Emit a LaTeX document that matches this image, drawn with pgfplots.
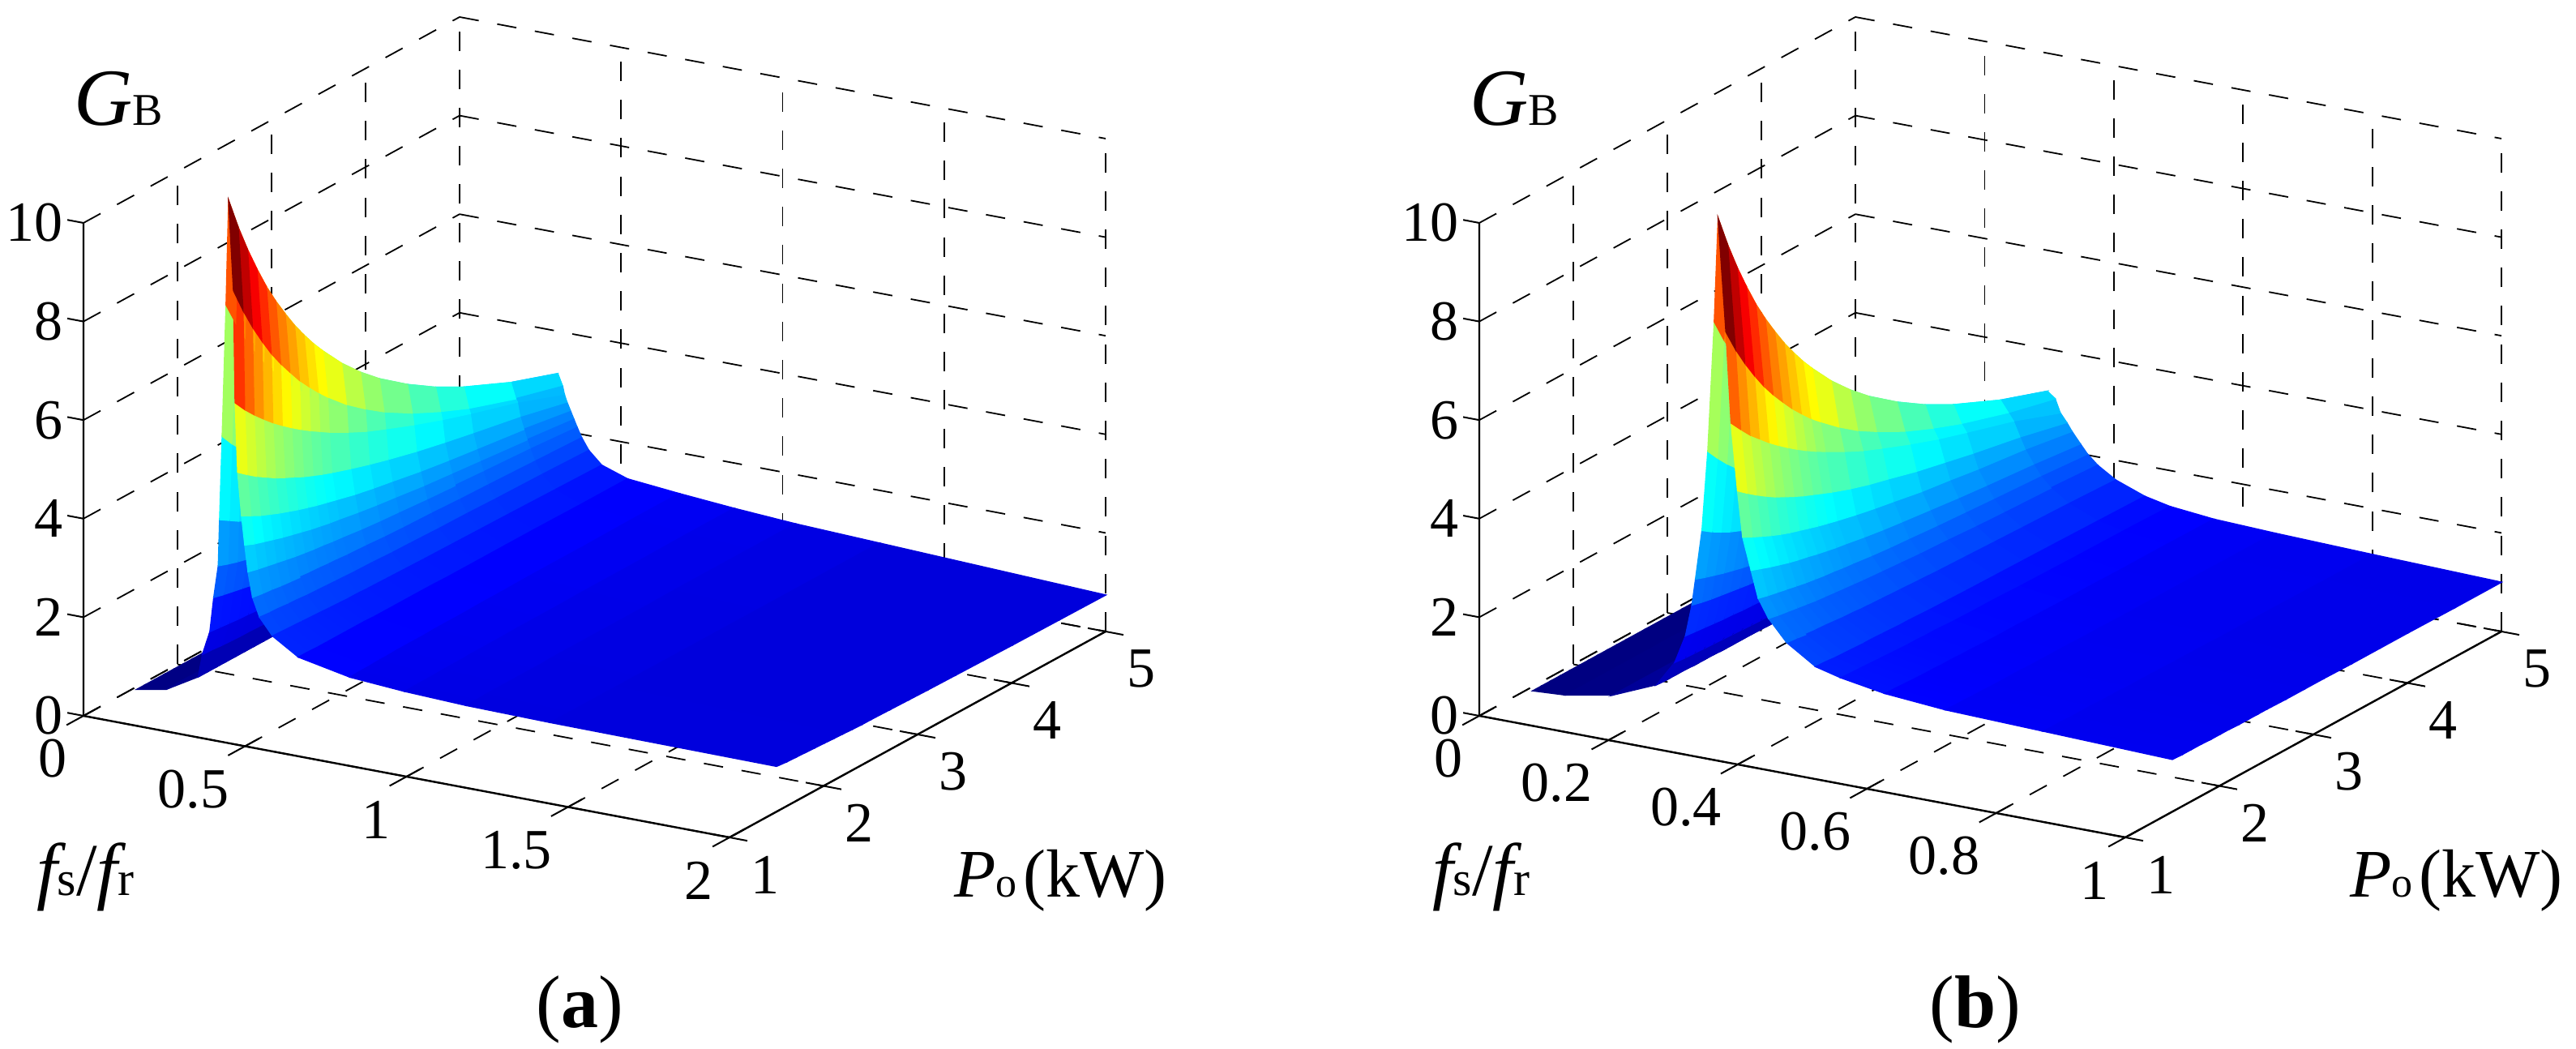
\documentclass[border=0pt]{standalone}
\usepackage{fontspec}
\setmainfont{Liberation Serif}
\usepackage{pgfplots}
\pgfplotsset{compat=1.18}
\newcommand\tl{\fontsize{17.5pt}{18pt}\selectfont}
\newcommand\bgf{\fontsize{21pt}{23pt}\selectfont}
\newcommand\ttf{\fontsize{23pt}{25pt}\selectfont}
\newcommand\sm{\fontsize{13pt}{14pt}\selectfont}
\newcommand\smx{\fontsize{15pt}{16pt}\selectfont}
\pgfplotsset{gb/.style={
 clip=false, ymin=1,ymax=5,zmin=0,zmax=10,
 ytick={1,2,3,4,5}, ztick={0,2,4,6,8,10},
 /pgf/number format/assume math mode=true,
 grid=major, major grid style={black,line width=.45pt,dash pattern=on 6pt off 5.8pt},
 axis line style={draw=none}, tick style={draw=none}, major tick length=0pt,
 colormap={jetm}{rgb255=(0,0,128) rgb255=(0,0,255) rgb255=(0,128,255) rgb255=(0,255,255) rgb255=(128,255,128) rgb255=(255,255,0) rgb255=(255,128,0) rgb255=(255,0,0) rgb255=(128,0,0)},
 point meta min=0, point meta max=10.3,
 tick label style={font=\tl},
 xticklabel style={anchor=east,xshift=-1.5pt,yshift=-13.25pt},
 yticklabel style={anchor=center,xshift=11pt,yshift=-11.5pt},
 zticklabel style={anchor=east,xshift=-2.75pt,yshift=0pt},
 every axis x label/.style={at={(axis cs:0,1,0)},anchor=base west,xshift=-18pt,yshift=-55.5pt},
 every axis y label/.style={at={(axis cs:0,1,0)},anchor=base west,xshift=265pt,yshift=-56pt},
 every axis z label/.style={at={(axis cs:0,1,0)},anchor=base west,xshift=-6.5pt,yshift=182pt},
 title style={at={(axis cs:0,1,0)},anchor=center,xshift=153pt,yshift=-96.5pt,font=\ttf},
 xlabel={{\fontsize{23pt}{25pt}\selectfont\itshape f}{\smx s}{\fontsize{23pt}{25pt}\selectfont/}{\fontsize{23pt}{25pt}\selectfont\itshape f}{\smx r}},
 ylabel={{\bgf\itshape P}{\sm o}\kern2pt{\bgf (kW)}},
 zlabel={{\fontsize{25pt}{28pt}\selectfont\itshape G}{\fontsize{14pt}{16pt}\selectfont B}},
},
surfst/.style={surf,shader=flat corner,z buffer=sort,mesh/ordering=y varies,mesh/rows=19},
}
\begin{document}
\begin{tikzpicture}
\path[use as bounding box] (0,0) rectangle (794.5pt,323.5pt);
\begin{axis}[gb, at={(25.75pt,65.25pt)},anchor=south west,
 x={(99.625pt,-18.75pt)},y={(29pt,15.875pt)},z={(0pt,15.2pt)},
 xmin=0,xmax=2,xtick={0,0.5,1,1.5,2},
 title={({\bfseries a})}]
\addplot3[surfst] table {
.02 1.5 .04
.02 1.6 .04
.02 1.7 .04
.02 1.8 .04
.02 1.9 .04
.02 2 .04
.02 2.1 .04
.02 2.2 .04
.02 2.3 .04
.02 2.4 .04
.02 2.5 .04
.02 2.7 .04
.02 2.9 .04
.02 3.1 .04
.02 3.4 .04
.02 3.7 .04
.02 4 .04
.02 4.5 .04
.02 5 .04
.11 1.5 .15
.11 1.6 .15
.11 1.7 .15
.11 1.8 .15
.11 1.9 .15
.11 2 .15
.11 2.1 .15
.11 2.2 .15
.11 2.3 .15
.11 2.4 .15
.11 2.5 .15
.11 2.7 .15
.11 2.9 .15
.11 3.1 .15
.11 3.4 .15
.11 3.7 .15
.11 4 .15
.11 4.5 .15
.11 5 .15
.21 1.5 .53
.21 1.6 .53
.21 1.7 .53
.21 1.8 .53
.21 1.9 .53
.21 2 .53
.21 2.1 .53
.21 2.2 .53
.21 2.3 .53
.21 2.4 .53
.21 2.5 .53
.21 2.7 .53
.21 2.9 .53
.21 3.1 .53
.21 3.4 .53
.21 3.7 .53
.21 4 .53
.21 4.5 .53
.21 5 .53
.223 1.5 1.00
.223 1.6 .99
.223 1.7 .97
.223 1.8 .96
.223 1.9 .95
.223 2 .95
.223 2.1 .94
.223 2.2 .93
.223 2.3 .93
.223 2.4 .92
.223 2.5 .91
.223 2.7 .90
.223 2.9 .90
.223 3.1 .89
.223 3.4 .88
.223 3.7 .87
.223 4 .87
.223 4.5 .86
.223 5 .85
.246 1.5 1.49
.246 1.6 1.47
.246 1.7 1.45
.246 1.8 1.43
.246 1.9 1.42
.246 2 1.40
.246 2.1 1.39
.246 2.2 1.38
.246 2.3 1.37
.246 2.4 1.36
.246 2.5 1.35
.246 2.7 1.34
.246 2.9 1.32
.246 3.1 1.31
.246 3.4 1.30
.246 3.7 1.29
.246 4 1.28
.246 4.5 1.26
.246 5 1.25
.258 1.5 2.20
.258 1.6 2.15
.258 1.7 2.11
.258 1.8 2.07
.258 1.9 2.03
.258 2 2.00
.258 2.1 1.98
.258 2.2 1.95
.258 2.3 1.93
.258 2.4 1.91
.258 2.5 1.89
.258 2.7 1.85
.258 2.9 1.82
.258 3.1 1.79
.258 3.4 1.76
.258 3.7 1.73
.258 4 1.71
.258 4.5 1.68
.258 5 1.65
.272 1.5 2.86
.272 1.6 2.79
.272 1.7 2.73
.272 1.8 2.68
.272 1.9 2.63
.272 2 2.59
.272 2.1 2.55
.272 2.2 2.51
.272 2.3 2.48
.272 2.4 2.45
.272 2.5 2.43
.272 2.7 2.38
.272 2.9 2.34
.272 3.1 2.30
.272 3.4 2.25
.272 3.7 2.21
.272 4 2.18
.272 4.5 2.14
.272 5 2.10
.276 1.5 3.80
.276 1.6 3.68
.276 1.7 3.56
.276 1.8 3.47
.276 1.9 3.38
.276 2 3.30
.276 2.1 3.23
.276 2.2 3.16
.276 2.3 3.10
.276 2.4 3.05
.276 2.5 3.00
.276 2.7 2.91
.276 2.9 2.83
.276 3.1 2.77
.276 3.4 2.68
.276 3.7 2.61
.276 4 2.55
.276 4.5 2.47
.276 5 2.40
.284 1.5 5.50
.284 1.6 5.25
.284 1.7 5.03
.284 1.8 4.83
.284 1.9 4.66
.284 2 4.50
.284 2.1 4.36
.284 2.2 4.23
.284 2.3 4.11
.284 2.4 4.00
.284 2.5 3.90
.284 2.7 3.72
.284 2.9 3.57
.284 3.1 3.44
.284 3.4 3.27
.284 3.7 3.12
.284 4 3.00
.284 4.5 2.83
.284 5 2.70
.296 1.5 8.18
.296 1.6 7.72
.296 1.7 7.31
.296 1.8 6.95
.296 1.9 6.62
.296 2 6.33
.296 2.1 6.07
.296 2.2 5.82
.296 2.3 5.61
.296 2.4 5.40
.296 2.5 5.22
.296 2.7 4.89
.296 2.9 4.61
.296 3.1 4.36
.296 3.4 4.05
.296 3.7 3.78
.296 4 3.55
.296 4.5 3.25
.296 5 3.00
.304 1.5 10.30
.304 1.6 9.66
.304 1.7 9.10
.304 1.8 8.60
.304 1.9 8.14
.304 2 7.74
.304 2.1 7.38
.304 2.2 7.04
.304 2.3 6.74
.304 2.4 6.46
.304 2.5 6.21
.304 2.7 5.75
.304 2.9 5.36
.304 3.1 5.02
.304 3.4 4.59
.304 3.7 4.22
.304 4 3.91
.304 4.5 3.48
.304 5 3.14
.319 1.5 8.50
.319 1.6 8.00
.319 1.7 7.56
.319 1.8 7.17
.319 1.9 6.81
.319 2 6.50
.319 2.1 6.22
.319 2.2 5.95
.319 2.3 5.72
.319 2.4 5.50
.319 2.5 5.30
.319 2.7 4.94
.319 2.9 4.64
.319 3.1 4.37
.319 3.4 4.03
.319 3.7 3.75
.319 4 3.50
.319 4.5 3.17
.319 5 2.90
.324 1.5 6.23
.324 1.6 5.99
.324 1.7 5.78
.324 1.8 5.59
.324 1.9 5.41
.324 2 5.25
.324 2.1 5.10
.324 2.2 4.96
.324 2.3 4.83
.324 2.4 4.71
.324 2.5 4.59
.324 2.7 4.38
.324 2.9 4.19
.324 3.1 4.03
.324 3.4 3.80
.324 3.7 3.59
.324 4 3.40
.324 4.5 3.11
.324 5 2.75
.332 1.5 4.83
.332 1.6 4.68
.332 1.7 4.54
.332 1.8 4.42
.332 1.9 4.30
.332 2 4.20
.332 2.1 4.11
.332 2.2 4.01
.332 2.3 3.93
.332 2.4 3.85
.332 2.5 3.78
.332 2.7 3.65
.332 2.9 3.53
.332 3.1 3.42
.332 3.4 3.27
.332 3.7 3.14
.332 4 3.02
.332 4.5 2.83
.332 5 2.60
.344 1.5 3.96
.344 1.6 3.86
.344 1.7 3.76
.344 1.8 3.68
.344 1.9 3.60
.344 2 3.53
.344 2.1 3.46
.344 2.2 3.40
.344 2.3 3.34
.344 2.4 3.29
.344 2.5 3.24
.344 2.7 3.14
.344 2.9 3.06
.344 3.1 2.99
.344 3.4 2.88
.344 3.7 2.79
.344 4 2.71
.344 4.5 2.58
.344 5 2.42
.354 1.5 3.38
.354 1.6 3.30
.354 1.7 3.24
.354 1.8 3.18
.354 1.9 3.12
.354 2 3.07
.354 2.1 3.02
.354 2.2 2.97
.354 2.3 2.93
.354 2.4 2.89
.354 2.5 2.86
.354 2.7 2.79
.354 2.9 2.73
.354 3.1 2.68
.354 3.4 2.60
.354 3.7 2.54
.354 4 2.48
.354 4.5 2.38
.354 5 2.27
.364 1.5 2.85
.364 1.6 2.80
.364 1.7 2.76
.364 1.8 2.72
.364 1.9 2.68
.364 2 2.64
.364 2.1 2.61
.364 2.2 2.58
.364 2.3 2.56
.364 2.4 2.53
.364 2.5 2.51
.364 2.7 2.46
.364 2.9 2.42
.364 3.1 2.39
.364 3.4 2.34
.364 3.7 2.30
.364 4 2.26
.364 4.5 2.20
.364 5 2.12
.378 1.5 2.35
.378 1.6 2.32
.378 1.7 2.30
.378 1.8 2.27
.378 1.9 2.25
.378 2 2.23
.378 2.1 2.21
.378 2.2 2.20
.378 2.3 2.18
.378 2.4 2.17
.378 2.5 2.15
.378 2.7 2.13
.378 2.9 2.10
.378 3.1 2.08
.378 3.4 2.06
.378 3.7 2.03
.378 4 2.01
.378 4.5 1.97
.378 5 1.93
.40 1.5 1.97
.40 1.6 1.95
.40 1.7 1.94
.40 1.8 1.92
.40 1.9 1.91
.40 2 1.89
.40 2.1 1.88
.40 2.2 1.87
.40 2.3 1.86
.40 2.4 1.85
.40 2.5 1.84
.40 2.7 1.83
.40 2.9 1.81
.40 3.1 1.80
.40 3.4 1.78
.40 3.7 1.77
.40 4 1.75
.40 4.5 1.73
.40 5 1.70
.44 1.5 1.64
.44 1.6 1.63
.44 1.7 1.62
.44 1.8 1.61
.44 1.9 1.60
.44 2 1.59
.44 2.1 1.58
.44 2.2 1.57
.44 2.3 1.56
.44 2.4 1.56
.44 2.5 1.55
.44 2.7 1.54
.44 2.9 1.53
.44 3.1 1.52
.44 3.4 1.51
.44 3.7 1.50
.44 4 1.49
.44 4.5 1.47
.44 5 1.45
.52 1.5 1.31
.52 1.6 1.31
.52 1.7 1.30
.52 1.8 1.30
.52 1.9 1.30
.52 2 1.30
.52 2.1 1.30
.52 2.2 1.30
.52 2.3 1.29
.52 2.4 1.29
.52 2.5 1.29
.52 2.7 1.29
.52 2.9 1.29
.52 3.1 1.28
.52 3.4 1.28
.52 3.7 1.28
.52 4 1.28
.52 4.5 1.27
.52 5 1.27
.68 1.5 1.10
.68 1.6 1.11
.68 1.7 1.11
.68 1.8 1.12
.68 1.9 1.12
.68 2 1.13
.68 2.1 1.13
.68 2.2 1.13
.68 2.3 1.13
.68 2.4 1.14
.68 2.5 1.14
.68 2.7 1.14
.68 2.9 1.15
.68 3.1 1.15
.68 3.4 1.16
.68 3.7 1.16
.68 4 1.16
.68 4.5 1.17
.68 5 1.17
.85 1.5 1.02
.85 1.6 1.03
.85 1.7 1.03
.85 1.8 1.03
.85 1.9 1.04
.85 2 1.04
.85 2.1 1.04
.85 2.2 1.05
.85 2.3 1.05
.85 2.4 1.05
.85 2.5 1.05
.85 2.7 1.06
.85 2.9 1.06
.85 3.1 1.06
.85 3.4 1.07
.85 3.7 1.07
.85 4 1.07
.85 4.5 1.08
.85 5 1.08
1.04 1.5 .97
1.04 1.6 .97
1.04 1.7 .98
1.04 1.8 .98
1.04 1.9 .98
1.04 2 .98
1.04 2.1 .98
1.04 2.2 .98
1.04 2.3 .98
1.04 2.4 .99
1.04 2.5 .99
1.04 2.7 .99
1.04 2.9 .99
1.04 3.1 .99
1.04 3.4 .99
1.04 3.7 1
1.04 4 1
1.04 4.5 1
1.04 5 1
1.3 1.5 .945
1.3 1.6 .944
1.3 1.7 .942
1.3 1.8 .941
1.3 1.9 .94
1.3 2 .94
1.3 2.1 .939
1.3 2.2 .938
1.3 2.3 .938
1.3 2.4 .937
1.3 2.5 .936
1.3 2.7 .935
1.3 2.9 .935
1.3 3.1 .934
1.3 3.4 .933
1.3 3.7 .932
1.3 4 .932
1.3 4.5 .931
1.3 5 .93
2 1.5 .92
2 1.6 .90
2 1.7 .89
2 1.8 .88
2 1.9 .87
2 2 .86
2 2.1 .85
2 2.2 .84
2 2.3 .83
2 2.4 .82
2 2.5 .82
2 2.7 .81
2 2.9 .80
2 3.1 .79
2 3.4 .78
2 3.7 .77
2 4 .76
2 4.5 .75
2 5 .74
};
\draw[line width=.6pt] (axis cs:0,1,0)--(axis cs:2,1,0) (axis cs:2,1,0)--(axis cs:2,5,0) (axis cs:0,1,0)--(axis cs:0,1,10);
\pgfplotsinvokeforeach{0,0.5,1,1.5,2}{\draw[line width=.5pt] (axis cs:#1,.82,0)--(axis cs:#1,1.15,0);}
\pgfplotsinvokeforeach{1,2,3,4,5}{\draw[line width=.5pt] (axis cs:1.945,#1,0)--(axis cs:2.055,#1,0);}
\pgfplotsinvokeforeach{0,2,4,6,8,10}{\draw[line width=.5pt] (axis cs:-.05,1,#1)--(axis cs:0,1,#1);}
\end{axis}
\begin{axis}[gb, at={(456.25pt,65.25pt)},anchor=south west,
 x={(199.25pt,-37.5pt)},y={(29pt,15.875pt)},z={(0pt,15.2pt)},
 xmin=0,xmax=1,xtick={0,0.2,0.4,0.6,0.8,1},
 title={({\bfseries b})}]
\addplot3[surfst] table {
.01 1.5 .01
.01 1.6 .01
.01 1.7 .01
.01 1.8 .01
.01 1.9 .01
.01 2 .01
.01 2.1 .01
.01 2.2 .01
.01 2.3 .01
.01 2.4 .01
.01 2.5 .01
.01 2.7 .01
.01 2.9 .01
.01 3.1 .01
.01 3.4 .01
.01 3.7 .01
.01 4 .01
.01 4.5 .01
.01 5 .01
.061 1.5 .05
.061 1.6 .05
.061 1.7 .05
.061 1.8 .05
.061 1.9 .05
.061 2 .05
.061 2.1 .05
.061 2.2 .05
.061 2.3 .05
.061 2.4 .05
.061 2.5 .05
.061 2.7 .05
.061 2.9 .05
.061 3.1 .05
.061 3.4 .05
.061 3.7 .05
.061 4 .05
.061 4.5 .05
.061 5 .05
.134 1.5 .23
.134 1.6 .23
.134 1.7 .23
.134 1.8 .23
.134 1.9 .23
.134 2 .23
.134 2.1 .23
.134 2.2 .23
.134 2.3 .23
.134 2.4 .23
.134 2.5 .23
.134 2.7 .23
.134 2.9 .23
.134 3.1 .23
.134 3.4 .23
.134 3.7 .23
.134 4 .23
.134 4.5 .23
.134 5 .23
.202 1.5 .61
.202 1.6 .60
.202 1.7 .60
.202 1.8 .60
.202 1.9 .59
.202 2 .59
.202 2.1 .59
.202 2.2 .58
.202 2.3 .58
.202 2.4 .58
.202 2.5 .58
.202 2.7 .57
.202 2.9 .57
.202 3.1 .57
.202 3.4 .56
.202 3.7 .56
.202 4 .56
.202 4.5 .55
.202 5 .55
.23 1.5 1.13
.23 1.6 1.11
.23 1.7 1.10
.23 1.8 1.09
.23 1.9 1.08
.23 2 1.07
.23 2.1 1.06
.23 2.2 1.05
.23 2.3 1.04
.23 2.4 1.03
.23 2.5 1.03
.23 2.7 1.02
.23 2.9 1.01
.23 3.1 1.00
.23 3.4 .99
.23 3.7 .98
.23 4 .97
.23 4.5 .96
.23 5 .95
.2465 1.5 1.71
.2465 1.6 1.69
.2465 1.7 1.67
.2465 1.8 1.65
.2465 1.9 1.63
.2465 2 1.62
.2465 2.1 1.60
.2465 2.2 1.59
.2465 2.3 1.58
.2465 2.4 1.57
.2465 2.5 1.56
.2465 2.7 1.54
.2465 2.9 1.53
.2465 3.1 1.52
.2465 3.4 1.50
.2465 3.7 1.49
.2465 4 1.48
.2465 4.5 1.46
.2465 5 1.45
.2565 1.5 2.36
.2565 1.6 2.31
.2565 1.7 2.27
.2565 1.8 2.24
.2565 1.9 2.21
.2565 2 2.18
.2565 2.1 2.15
.2565 2.2 2.13
.2565 2.3 2.11
.2565 2.4 2.09
.2565 2.5 2.07
.2565 2.7 2.04
.2565 2.9 2.01
.2565 3.1 1.98
.2565 3.4 1.95
.2565 3.7 1.93
.2565 4 1.90
.2565 4.5 1.87
.2565 5 1.85
.262 1.5 2.90
.262 1.6 2.83
.262 1.7 2.77
.262 1.8 2.71
.262 1.9 2.66
.262 2 2.61
.262 2.1 2.57
.262 2.2 2.54
.262 2.3 2.50
.262 2.4 2.47
.262 2.5 2.44
.262 2.7 2.39
.262 2.9 2.35
.262 3.1 2.31
.262 3.4 2.26
.262 3.7 2.22
.262 4 2.19
.262 4.5 2.14
.262 5 2.10
.272 1.5 3.91
.272 1.6 3.78
.272 1.7 3.67
.272 1.8 3.57
.272 1.9 3.49
.272 2 3.41
.272 2.1 3.33
.272 2.2 3.27
.272 2.3 3.21
.272 2.4 3.15
.272 2.5 3.10
.272 2.7 3.01
.272 2.9 2.94
.272 3.1 2.87
.272 3.4 2.78
.272 3.7 2.71
.272 4 2.65
.272 4.5 2.57
.272 5 2.50
.281 1.5 5.54
.281 1.6 5.30
.281 1.7 5.08
.281 1.8 4.89
.281 1.9 4.72
.281 2 4.56
.281 2.1 4.42
.281 2.2 4.29
.281 2.3 4.18
.281 2.4 4.07
.281 2.5 3.98
.281 2.7 3.80
.281 2.9 3.65
.281 3.1 3.52
.281 3.4 3.35
.281 3.7 3.21
.281 4 3.09
.281 4.5 2.93
.281 5 2.80
.291 1.5 8.19
.291 1.6 7.73
.291 1.7 7.33
.291 1.8 6.97
.291 1.9 6.64
.291 2 6.35
.291 2.1 6.09
.291 2.2 5.85
.291 2.3 5.64
.291 2.4 5.43
.291 2.5 5.25
.291 2.7 4.93
.291 2.9 4.64
.291 3.1 4.40
.291 3.4 4.09
.291 3.7 3.83
.291 4 3.60
.291 4.5 3.30
.291 5 3.05
.297 1.5 10.30
.297 1.6 9.66
.297 1.7 9.10
.297 1.8 8.60
.297 1.9 8.14
.297 2 7.74
.297 2.1 7.38
.297 2.2 7.04
.297 2.3 6.74
.297 2.4 6.46
.297 2.5 6.21
.297 2.7 5.75
.297 2.9 5.36
.297 3.1 5.02
.297 3.4 4.59
.297 3.7 4.22
.297 4 3.91
.297 4.5 3.48
.297 5 3.14
.309 1.5 8.03
.309 1.6 7.58
.309 1.7 7.19
.309 1.8 6.84
.309 1.9 6.52
.309 2 6.24
.309 2.1 5.99
.309 2.2 5.75
.309 2.3 5.54
.309 2.4 5.34
.309 2.5 5.17
.309 2.7 4.85
.309 2.9 4.57
.309 3.1 4.34
.309 3.4 4.03
.309 3.7 3.78
.309 4 3.56
.309 4.5 3.26
.309 5 3.02
.317 1.5 6.20
.317 1.6 5.97
.317 1.7 5.75
.317 1.8 5.57
.317 1.9 5.39
.317 2 5.23
.317 2.1 5.08
.317 2.2 4.94
.317 2.3 4.81
.317 2.4 4.69
.317 2.5 4.58
.317 2.7 4.37
.317 2.9 4.18
.317 3.1 4.02
.317 3.4 3.79
.317 3.7 3.58
.317 4 3.40
.317 4.5 3.11
.317 5 2.75
.327 1.5 4.85
.327 1.6 4.70
.327 1.7 4.56
.327 1.8 4.43
.327 1.9 4.31
.327 2 4.21
.327 2.1 4.11
.327 2.2 4.02
.327 2.3 3.94
.327 2.4 3.86
.327 2.5 3.78
.327 2.7 3.64
.327 2.9 3.52
.327 3.1 3.42
.327 3.4 3.26
.327 3.7 3.13
.327 4 3.00
.327 4.5 2.81
.327 5 2.58
.335 1.5 3.93
.335 1.6 3.83
.335 1.7 3.74
.335 1.8 3.65
.335 1.9 3.57
.335 2 3.50
.335 2.1 3.44
.335 2.2 3.38
.335 2.3 3.32
.335 2.4 3.27
.335 2.5 3.22
.335 2.7 3.13
.335 2.9 3.05
.335 3.1 2.98
.335 3.4 2.87
.335 3.7 2.79
.335 4 2.70
.335 4.5 2.58
.335 5 2.42
.348 1.5 3.29
.348 1.6 3.22
.348 1.7 3.15
.348 1.8 3.09
.348 1.9 3.03
.348 2 2.98
.348 2.1 2.94
.348 2.2 2.89
.348 2.3 2.85
.348 2.4 2.81
.348 2.5 2.78
.348 2.7 2.71
.348 2.9 2.65
.348 3.1 2.60
.348 3.4 2.53
.348 3.7 2.46
.348 4 2.40
.348 4.5 2.31
.348 5 2.20
.359 1.5 2.75
.359 1.6 2.70
.359 1.7 2.66
.359 1.8 2.62
.359 1.9 2.58
.359 2 2.54
.359 2.1 2.51
.359 2.2 2.48
.359 2.3 2.46
.359 2.4 2.43
.359 2.5 2.41
.359 2.7 2.36
.359 2.9 2.32
.359 3.1 2.29
.359 3.4 2.24
.359 3.7 2.20
.359 4 2.16
.359 4.5 2.10
.359 5 2.02
.375 1.5 2.38
.375 1.6 2.34
.375 1.7 2.31
.375 1.8 2.28
.375 1.9 2.25
.375 2 2.22
.375 2.1 2.20
.375 2.2 2.18
.375 2.3 2.16
.375 2.4 2.14
.375 2.5 2.12
.375 2.7 2.09
.375 2.9 2.06
.375 3.1 2.03
.375 3.4 2.00
.375 3.7 1.96
.375 4 1.93
.375 4.5 1.89
.375 5 1.83
.403 1.5 1.96
.403 1.6 1.94
.403 1.7 1.91
.403 1.8 1.89
.403 1.9 1.88
.403 2 1.86
.403 2.1 1.84
.403 2.2 1.83
.403 2.3 1.81
.403 2.4 1.80
.403 2.5 1.79
.403 2.7 1.77
.403 2.9 1.75
.403 3.1 1.73
.403 3.4 1.71
.403 3.7 1.69
.403 4 1.67
.403 4.5 1.64
.403 5 1.60
.448 1.5 1.58
.448 1.6 1.57
.448 1.7 1.55
.448 1.8 1.54
.448 1.9 1.53
.448 2 1.52
.448 2.1 1.52
.448 2.2 1.51
.448 2.3 1.50
.448 2.4 1.49
.448 2.5 1.49
.448 2.7 1.47
.448 2.9 1.46
.448 3.1 1.45
.448 3.4 1.44
.448 3.7 1.43
.448 4 1.42
.448 4.5 1.40
.448 5 1.38
.487 1.5 1.45
.487 1.6 1.44
.487 1.7 1.43
.487 1.8 1.42
.487 1.9 1.41
.487 2 1.40
.487 2.1 1.39
.487 2.2 1.38
.487 2.3 1.38
.487 2.4 1.37
.487 2.5 1.37
.487 2.7 1.35
.487 2.9 1.34
.487 3.1 1.34
.487 3.4 1.32
.487 3.7 1.31
.487 4 1.30
.487 4.5 1.29
.487 5 1.27
.555 1.5 1.30
.555 1.6 1.29
.555 1.7 1.28
.555 1.8 1.27
.555 1.9 1.26
.555 2 1.26
.555 2.1 1.25
.555 2.2 1.25
.555 2.3 1.24
.555 2.4 1.24
.555 2.5 1.23
.555 2.7 1.22
.555 2.9 1.22
.555 3.1 1.21
.555 3.4 1.20
.555 3.7 1.20
.555 4 1.19
.555 4.5 1.19
.555 5 1.18
.649 1.5 1.20
.649 1.6 1.19
.649 1.7 1.19
.649 1.8 1.18
.649 1.9 1.18
.649 2 1.17
.649 2.1 1.17
.649 2.2 1.17
.649 2.3 1.17
.649 2.4 1.16
.649 2.5 1.16
.649 2.7 1.16
.649 2.9 1.15
.649 3.1 1.15
.649 3.4 1.14
.649 3.7 1.14
.649 4 1.14
.649 4.5 1.13
.649 5 1.13
.8 1.5 1.14
.8 1.6 1.13
.8 1.7 1.13
.8 1.8 1.12
.8 1.9 1.12
.8 2 1.12
.8 2.1 1.11
.8 2.2 1.11
.8 2.3 1.11
.8 2.4 1.10
.8 2.5 1.10
.8 2.7 1.10
.8 2.9 1.09
.8 3.1 1.09
.8 3.4 1.08
.8 3.7 1.08
.8 4 1.08
.8 4.5 1.07
.8 5 1.07
1 1.5 1.06
1 1.6 1.05
1 1.7 1.05
1 1.8 1.05
1 1.9 1.04
1 2 1.04
1 2.1 1.04
1 2.2 1.03
1 2.3 1.03
1 2.4 1.03
1 2.5 1.03
1 2.7 1.02
1 2.9 1.02
1 3.1 1.02
1 3.4 1.01
1 3.7 1.01
1 4 1.01
1 4.5 1
1 5 1
};
\draw[line width=.6pt] (axis cs:0,1,0)--(axis cs:1,1,0) (axis cs:1,1,0)--(axis cs:1,5,0) (axis cs:0,1,0)--(axis cs:0,1,10);
\pgfplotsinvokeforeach{0,0.2,0.4,0.6,0.8,1}{\draw[line width=.5pt] (axis cs:#1,.82,0)--(axis cs:#1,1.15,0);}
\pgfplotsinvokeforeach{1,2,3,4,5}{\draw[line width=.5pt] (axis cs:.9725,#1,0)--(axis cs:1.0275,#1,0);}
\pgfplotsinvokeforeach{0,2,4,6,8,10}{\draw[line width=.5pt] (axis cs:-.025,1,#1)--(axis cs:0,1,#1);}
\end{axis}
\end{tikzpicture}
\end{document}
